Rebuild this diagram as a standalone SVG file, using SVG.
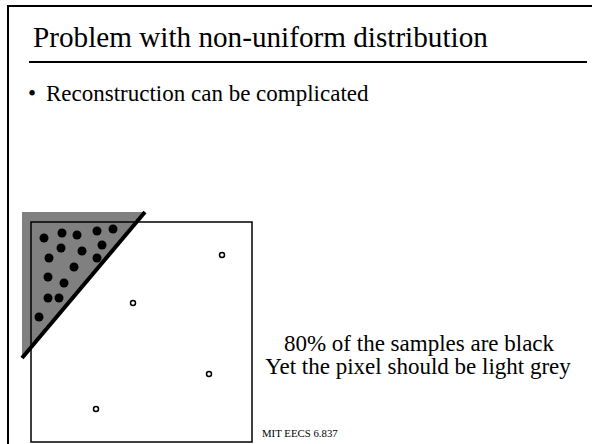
<svg xmlns="http://www.w3.org/2000/svg" width="592" height="444" viewBox="0 0 592 444">
<style>
text{font-family:"Liberation Serif","Times New Roman",serif;fill:#000}
.dot{fill:#000}
.open{fill:#fff;stroke:#000;stroke-width:1.5}
</style>
<rect width="592" height="444" fill="#fff"/>
<g id="frame">
<path d="M8 444 V6 H592" fill="none" stroke="#000" stroke-width="2"/>
<line x1="29" y1="62" x2="587" y2="62" stroke="#000" stroke-width="2"/>
</g>
<g id="title"><text x="33" y="47" font-size="29.2">Problem with non-uniform distribution</text></g>
<g id="bullet"><text x="28" y="101" font-size="23">•</text><text x="46" y="101" font-size="23">Reconstruction can be complicated</text></g>
<g id="pixel">
<polygon points="22,212 145,212 22,358" fill="#808080"/>
<rect x="31" y="222" width="221" height="220" fill="none" stroke="#000" stroke-width="1.5"/>
<line x1="145" y1="212" x2="22" y2="358" stroke="#000" stroke-width="4"/>
<g class="dot">
<circle cx="44" cy="238" r="4.5"/><circle cx="62" cy="233" r="4.5"/><circle cx="77" cy="235" r="4.5"/>
<circle cx="97" cy="231" r="4.5"/><circle cx="113" cy="229" r="4.5"/><circle cx="61" cy="248" r="4.5"/>
<circle cx="82" cy="251" r="4.5"/><circle cx="102" cy="245" r="4.5"/><circle cx="49" cy="258" r="4.5"/>
<circle cx="97" cy="258" r="4.5"/><circle cx="74" cy="267" r="4.5"/><circle cx="48" cy="277" r="4.5"/>
<circle cx="64" cy="283" r="4.5"/><circle cx="48" cy="298" r="4.5"/><circle cx="59" cy="298" r="4.5"/>
<circle cx="39" cy="317" r="4.5"/>
</g>
<circle class="open" cx="222" cy="255" r="2.5"/>
<circle class="open" cx="133" cy="303" r="2.5"/>
<circle class="open" cx="209" cy="374" r="2.5"/>
<circle class="open" cx="96" cy="409" r="2.5"/>
</g>
<g id="caption">
<text x="419" y="351" font-size="23" text-anchor="middle">80% of the samples are black</text>
<text x="418" y="374" font-size="23" text-anchor="middle">Yet the pixel should be light grey</text>
</g>
<g id="footer"><text x="262" y="437" font-size="10.8">MIT EECS 6.837</text></g>
</svg>
